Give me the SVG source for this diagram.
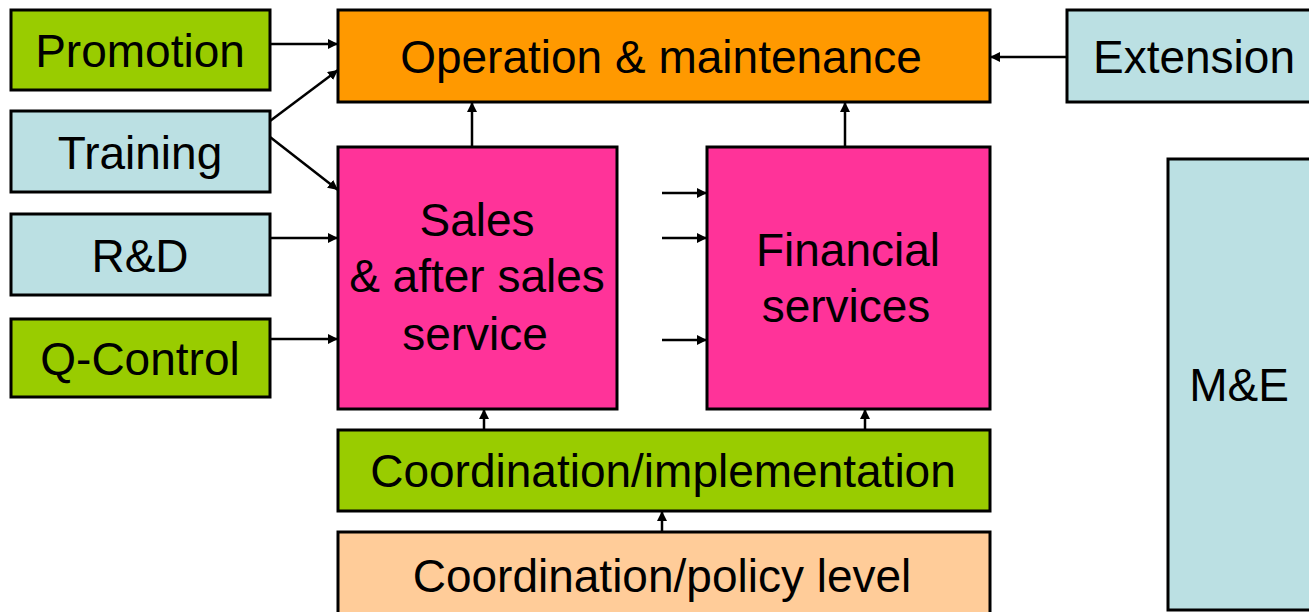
<svg xmlns="http://www.w3.org/2000/svg" width="1309" height="612" viewBox="0 0 1309 612">
<defs>
<style>
.box{stroke:#000;stroke-width:3}
.g{fill:#99cc00}
.b{fill:#bbe0e3}
.o{fill:#ff9900}
.p{fill:#ff3399}
.pe{fill:#ffcc99}
text{font-family:"Liberation Sans",Arial,sans-serif;font-size:46px;fill:#000;text-anchor:middle}
.c line{stroke:#000;stroke-width:2.5;marker-end:url(#ah)}
</style>
<marker id="ah" viewBox="0 0 10 10" refX="10" refY="5" markerWidth="4" markerHeight="4" orient="auto" markerUnits="strokeWidth">
<path d="M0,0 L10,5 L0,10 z" fill="#000"/>
</marker>
</defs>
<rect width="1309" height="612" fill="#fff"/>
<g id="promotion"><rect class="box g" x="11" y="10" width="259" height="80"/><text x="140" y="67">Promotion</text></g>
<g id="training"><rect class="box b" x="11" y="111" width="259" height="81"/><text x="140" y="169">Training</text></g>
<g id="rd"><rect class="box b" x="11" y="214" width="259" height="81"/><text x="140" y="272">R&amp;D</text></g>
<g id="qcontrol"><rect class="box g" x="11" y="319" width="259" height="78"/><text x="140" y="375">Q-Control</text></g>
<g id="operation"><rect class="box o" x="338" y="10" width="652" height="92"/><text x="661" y="73">Operation &amp; maintenance</text></g>
<g id="extension"><rect class="box b" x="1067" y="10" width="250" height="92"/><text x="1194" y="73">Extension</text></g>
<g id="sales"><rect class="box p" x="338" y="147" width="279" height="262"/><text x="477" y="236">Sales</text><text x="477" y="292">&amp; after sales</text><text x="475" y="350">service</text></g>
<g id="financial"><rect class="box p" x="707" y="147" width="283" height="262"/><text x="848" y="266">Financial</text><text x="846" y="322">services</text></g>
<g id="coordimpl"><rect class="box g" x="338" y="430" width="652" height="81"/><text x="663" y="487">Coordination/implementation</text></g>
<g id="policy"><rect class="box pe" x="338" y="532" width="652" height="90"/><text x="662" y="592">Coordination/policy  level</text></g>
<g id="me"><rect class="box b" x="1168" y="159" width="150" height="451"/><text x="1239" y="401">M&amp;E</text></g>
<g class="c" id="connectors">
<line x1="270" y1="44" x2="338" y2="44"/>
<line x1="270" y1="121" x2="338" y2="70"/>
<line x1="270" y1="137" x2="338" y2="190"/>
<line x1="270" y1="238" x2="338" y2="238"/>
<line x1="270" y1="339" x2="338" y2="339"/>
<line x1="662" y1="193" x2="707" y2="193"/>
<line x1="662" y1="238" x2="707" y2="238"/>
<line x1="662" y1="340" x2="707" y2="340"/>
<line x1="1067" y1="57" x2="990" y2="57"/>
<line x1="472" y1="147" x2="472" y2="102"/>
<line x1="845" y1="147" x2="845" y2="102"/>
<line x1="484" y1="430" x2="484" y2="409"/>
<line x1="865" y1="430" x2="865" y2="409"/>
<line x1="662" y1="532" x2="662" y2="511"/>
</g>
</svg>
